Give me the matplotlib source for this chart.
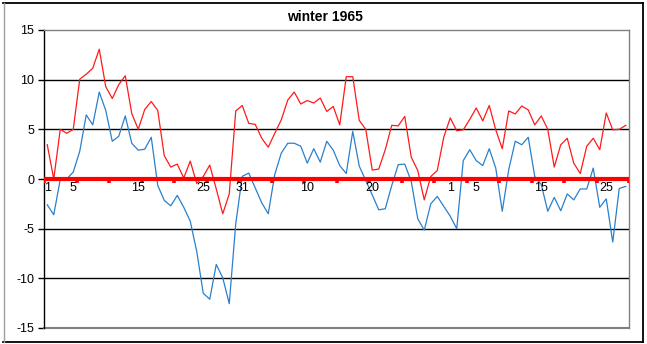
import matplotlib
matplotlib.use("Agg")
import matplotlib.pyplot as plt
from matplotlib.patches import Rectangle
from matplotlib.lines import Line2D

plt.rcParams['font.family'] = ['Liberation Sans', 'DejaVu Sans']

# day-of-month categories (Dec, Jan, Feb)
days = list(range(1, 32)) + list(range(1, 32)) + list(range(1, 29))
shown_label_idx = [0, 4, 14, 24, 30, 40, 50, 62, 66, 76, 86]

red_series = [3.45, 0.0, 5.0, 4.6, 5.0, 10.05, 10.55, 11.15, 13.07, 9.3,
              8.1, 9.5, 10.4, 6.6, 5.0, 7.0, 7.8, 6.9, 2.35, 1.2,
              1.5, 0.1, 1.8, -0.45, 0.25, 1.4, -1.0, -3.5, -1.5, 6.85,
              7.4, 5.6, 5.5, 4.1, 3.2, 4.6, 5.95, 7.95, 8.75, 7.55,
              7.9, 7.65, 8.15, 6.8, 7.3, 5.45, 10.3, 10.3, 5.9, 5.0,
              0.9, 1.0, 2.95, 5.4, 5.35, 6.3, 2.2, 0.85, -2.1, 0.25,
              0.85, 4.2, 6.15, 4.85, 4.95, 6.0, 7.15, 5.85, 7.4, 4.95,
              3.05, 6.85, 6.55, 7.35, 6.95, 5.45, 6.35, 5.0, 1.2, 3.45,
              4.1, 1.6, 0.55, 3.3, 4.1, 2.95, 6.65, 4.95, 5.0, 5.4]

blue_series = [-2.6, -3.6, -0.05, 0.0, 0.7, 2.8, 6.45, 5.45, 8.75, 6.9,
               3.8, 4.3, 6.35, 3.6, 2.9, 3.0, 4.2, -0.65, -2.15, -2.7,
               -1.65, -2.85, -4.25, -7.3, -11.5, -12.1, -8.6, -9.95, -12.55, -4.5,
               0.27, 0.6, -0.9, -2.4, -3.5, 0.45, 2.6, 3.6, 3.6, 3.3,
               1.6, 3.05, 1.7, 3.8, 2.9, 1.35, 0.55, 4.8, 1.3, -0.15,
               -1.6, -3.1, -3.0, -0.65, 1.45, 1.5, -0.25, -4.0, -5.15, -2.5,
               -1.75, -2.75, -3.75, -5.0, 1.85, 2.95, 1.85, 1.35, 3.05, 1.1,
               -3.25, 0.95, 3.8, 3.45, 4.2, 0.25, -0.55, -3.25, -1.85, -3.2,
               -1.5, -2.1, -1.0, -1.0, 1.1, -2.85, -2.0, -6.35, -0.95, -0.75]

y_ticks = [-15, -10, -5, 0, 5, 10, 15]
title = "winter 1965"

W, H = 647, 344
fig = plt.figure(figsize=(W / 100, H / 100), dpi=100)
fig.patch.set_facecolor('white')

# chart outer frame: black top/right/bottom, grey left edge
def fline(x0, y0, x1, y1, color, lw):
    fig.lines.append(Line2D([x0 / W, x1 / W], [1 - y0 / H, 1 - y1 / H],
                            transform=fig.transFigure, color=color, linewidth=lw))

fline(3, 2.5, 643, 2.5, 'black', 1.3)
fline(643, 2.5, 643, 341.5, 'black', 1.3)
fline(3, 341.5, 643, 341.5, 'black', 1.3)
fline(3.5, 2.5, 3.5, 341.5, '#A0A0A0', 1.0)

ax = fig.add_axes([44 / W, 1 - 328 / H, 585 / W, 298 / H])
n = len(days)
x = list(range(n))

ax.set_xlim(-0.5, n - 0.5)
ax.set_ylim(-15, 15)

# gridlines
for yv in y_ticks:
    if yv in (-15, 15, 0):
        continue
    ax.axhline(yv, color='black', linewidth=1.0, zorder=1)

ax.plot(x, red_series, color='#FF1A1A', linewidth=0.9, zorder=3)
ax.plot(x, blue_series, color='#2A80CC', linewidth=0.9, zorder=3)

# spines
for s in ('top', 'right'):
    ax.spines[s].set_color('#808080')
    ax.spines[s].set_linewidth(1.0)
ax.spines['left'].set_color('black')
ax.spines['left'].set_linewidth(1.0)
ax.spines['bottom'].set_visible(False)
ax.axhline(-15, color='#808080', linewidth=1.5, zorder=2, clip_on=False)

# red category axis at zero
ax.axhline(0, color='#FF0000', linewidth=3.0, zorder=4)
for k in range(0, n + 1, 5):
    ax.plot([k - 0.5, k - 0.5], [0, -0.38], color='#FF0000', linewidth=2.6,
            solid_capstyle='butt', zorder=4)
for i in shown_label_idx:
    ax.text(i, -0.35, str(days[i]), ha='center', va='top', fontsize=9, color='black',
            zorder=5)

ax.set_xticks([])
ax.set_yticks(y_ticks)
ax.set_yticklabels([str(v) for v in y_ticks], fontsize=9)
ax.tick_params(axis='y', direction='out', length=4, width=1, color='black', pad=3)

fig.text(325 / W, 1 - 17 / H, title, ha='center', va='center', fontsize=10,
         fontweight='bold')

fig.savefig('out.png', dpi=100)
